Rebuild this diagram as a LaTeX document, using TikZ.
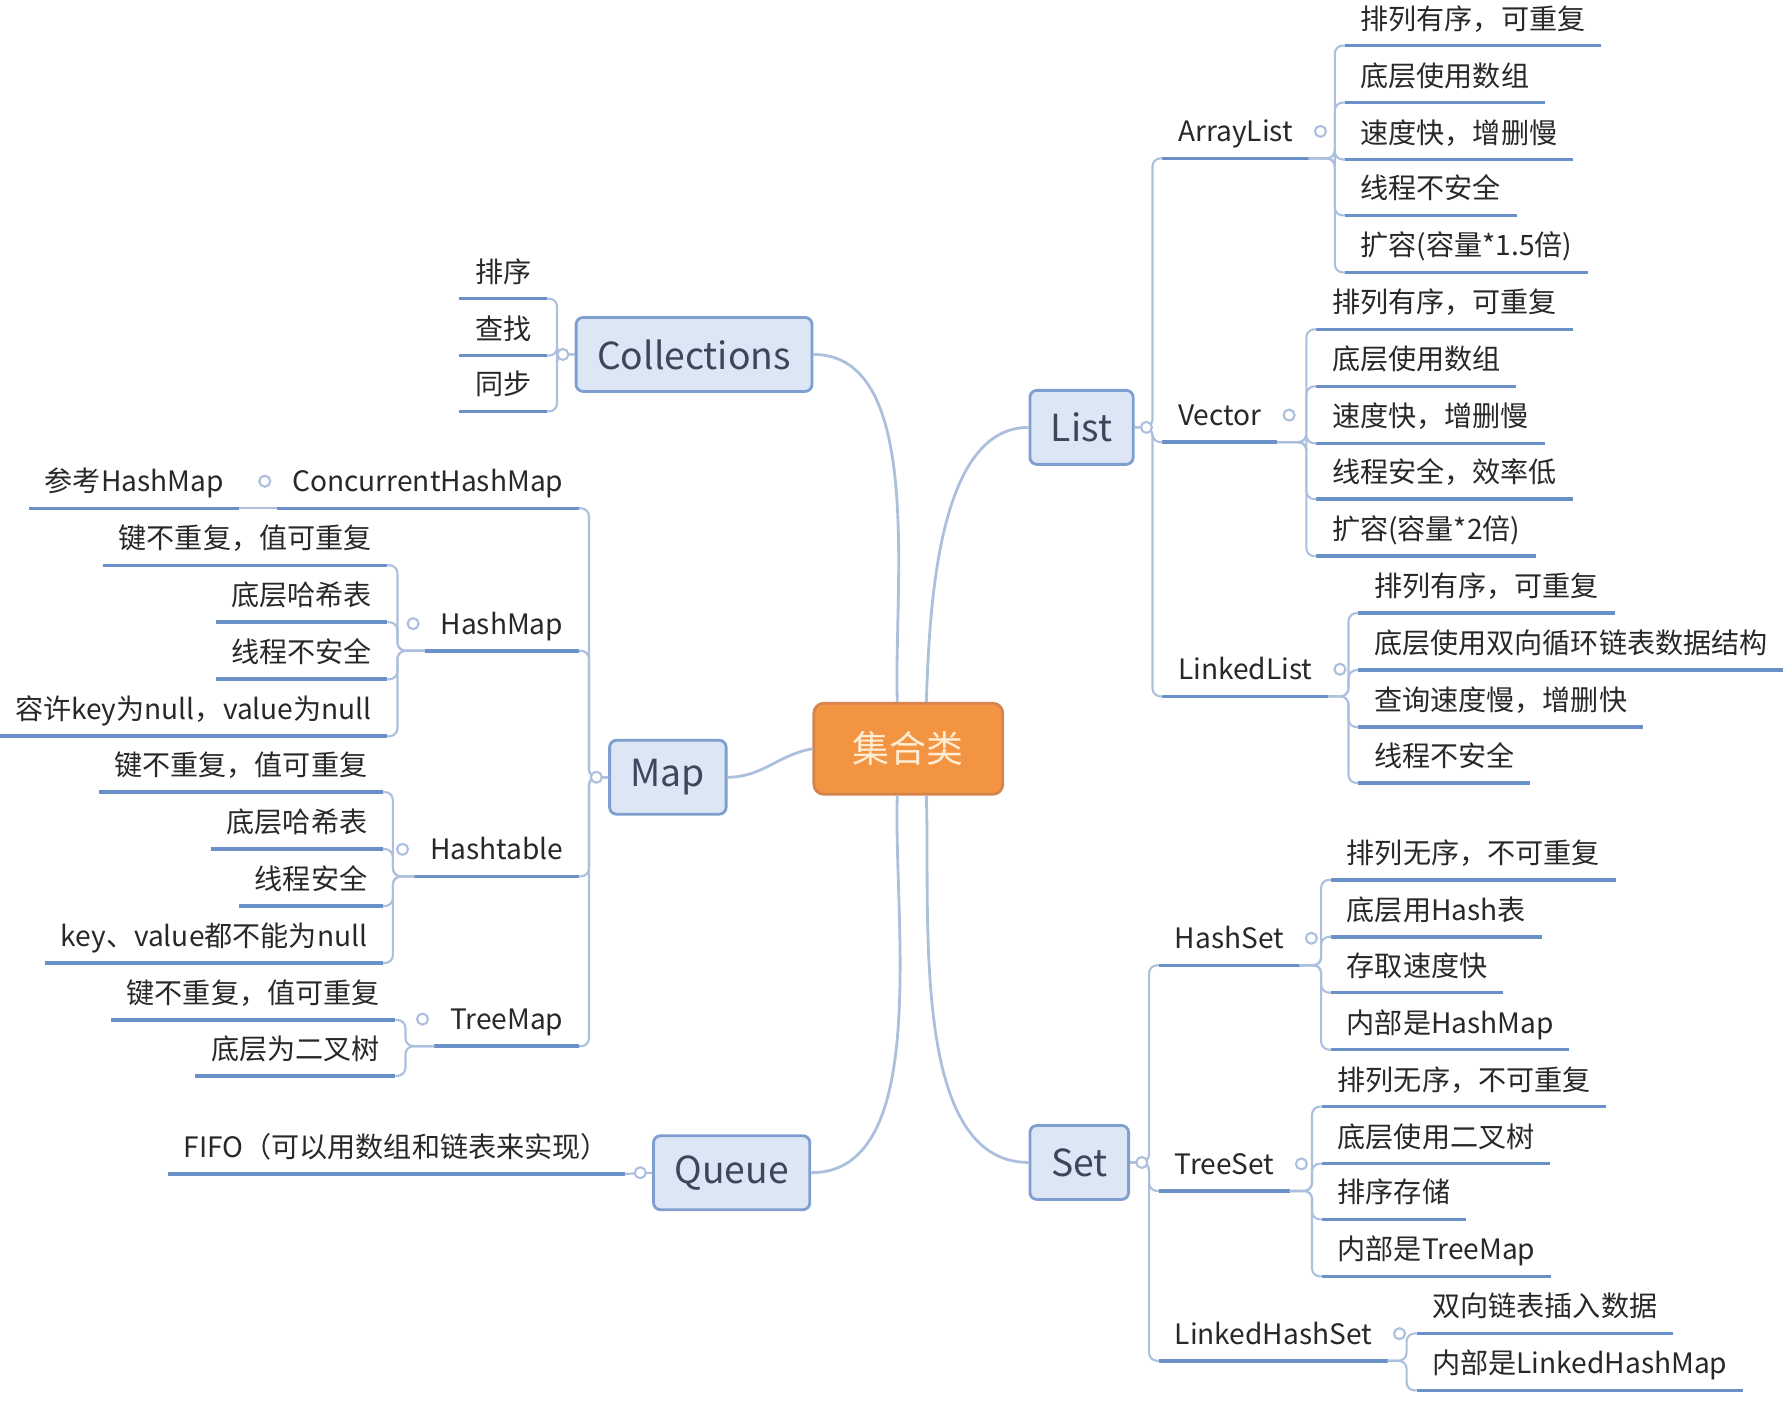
\documentclass[tikz,border=0pt]{standalone}
\usepackage{fontspec}
\setmainfont{Noto Sans CJK SC}
\usepackage{tikz}
\usetikzlibrary{positioning, calc}

\definecolor{rootfill}{RGB}{243,148,66}
\definecolor{rootdraw}{RGB}{214,132,78}
\definecolor{roottext}{RGB}{255,236,210}
\definecolor{topicfill}{RGB}{221,230,244}
\definecolor{topicdraw}{RGB}{126,159,208}
\definecolor{topictext}{RGB}{58,72,92}
\definecolor{linecol}{RGB}{172,192,222}
\definecolor{ulcol}{RGB}{106,145,199}
\definecolor{leaftext}{RGB}{40,40,40}

\begin{document}
\begin{tikzpicture}[
    x=0.0114cm, y=-0.0114cm,
    root/.style={rectangle, draw=rootdraw, line width=0.8pt, fill=rootfill, rounded corners=0.1cm, minimum width=1.89cm, minimum height=0.91cm, text=roottext, font=\fontsize{10.5}{12}\selectfont},
    topic/.style={rectangle, draw=topicdraw, line width=0.8pt, fill=topicfill, rounded corners=0.07cm, minimum height=0.74cm, inner xsep=6pt, text=topictext, font=\fontsize{10.6}{13}\selectfont},
    leaf/.style={inner xsep=0.15cm, inner ysep=2pt, text height=0.85em, text depth=0.25em, text=leaftext, font=\fontsize{8}{9.6}\selectfont,
        append after command={\pgfextra{\let\under=\tikzlastnode} (\under.south west) edge[uline] (\under.south east)}},
    dot/.style={circle, draw=linecol, fill=white, line width=0.6pt, minimum size=0.11cm, inner sep=0pt},
    uline/.style={draw=ulcol, line width=1pt},
    link/.style={draw=linecol, line width=0.6pt},
    rbr/.style={link, rounded corners=0.08cm, to path={-| ([xshift=-#1]\tikztotarget) -- (\tikztotarget)}},
    rbr/.default=0.1cm,
    lbr/.style={link, rounded corners=0.08cm, to path={-| ([xshift=#1]\tikztotarget) -- (\tikztotarget)}},
    lbr/.default=0.1cm
]
\useasboundingbox (0,0) rectangle (1568,1231);
% Root and main topics
\node[root] (root) at (797,657) {集合类};
\node[topic] (coll) at (609,311) {Collections};
\node[topic] (map) at (586,682) {Map};
\node[topic] (queue) at (642,1029) {Queue};
\node[topic] (list) at (949,375) {List};
\node[topic] (set) at (947,1020) {Set};
\draw[link, line width=0.8pt] (coll.east) to[out=0, in=92, looseness=0.8] ([xshift=-0.11cm]root.north);
\draw[link, line width=0.8pt] (map.east) to[out=0, in=190] (root.west);
\draw[link, line width=0.8pt] (queue.east) to[out=0, in=-92, looseness=0.8] ([xshift=-0.11cm]root.south);
\draw[link, line width=0.8pt] (list.west) to[out=180, in=88, looseness=0.8] ([xshift=0.18cm]root.north);
\draw[link, line width=0.8pt] (set.west) to[out=180, in=-88, looseness=0.8] ([xshift=0.18cm]root.south);

% List
\node[leaf, anchor=south west] (al) at (1020,139) {ArrayList};
\node[leaf, anchor=south west] (al1) at (1180,40) {排列有序，可重复};
\node[leaf, anchor=south west] (al2) at (1180,90) {底层使用数组};
\node[leaf, anchor=south west] (al3) at (1180,140) {速度快，增删慢};
\node[leaf, anchor=south west] (al4) at (1180,189) {线程不安全};
\node[leaf, anchor=south west] (al5) at (1180,239) {扩容(容量*1.5倍)};
\node[leaf, anchor=south west] (vec) at (1020,388) {Vector};
\node[leaf, anchor=south west] (vec1) at (1155,289) {排列有序，可重复};
\node[leaf, anchor=south west] (vec2) at (1155,339) {底层使用数组};
\node[leaf, anchor=south west] (vec3) at (1155,389) {速度快，增删慢};
\node[leaf, anchor=south west] (vec4) at (1155,438) {线程安全，效率低};
\node[leaf, anchor=south west] (vec5) at (1155,488) {扩容(容量*2倍)};
\node[leaf, anchor=south west] (ll) at (1020,611) {LinkedList};
\node[leaf, anchor=south west] (ll1) at (1192,538) {排列有序，可重复};
\node[leaf, anchor=south west] (ll2) at (1192,588) {底层使用双向循环链表数据结构};
\node[leaf, anchor=south west] (ll3) at (1192,638) {查询速度慢，增删快};
\node[leaf, anchor=south west] (ll4) at (1192,687) {线程不安全};
\path (list.east) edge[rbr] (al.south west) edge[rbr] (vec.south west) edge[rbr] (ll.south west);
\path (al.south east) edge[rbr] (al1.south west) edge[rbr] (al2.south west) edge[rbr] (al3.south west)
    edge[rbr] (al4.south west) edge[rbr] (al5.south west);
\path (vec.south east) edge[rbr] (vec1.south west) edge[rbr] (vec2.south west) edge[rbr] (vec3.south west)
    edge[rbr] (vec4.south west) edge[rbr] (vec5.south west);
\path (ll.south east) edge[rbr] (ll1.south west) edge[rbr] (ll2.south west) edge[rbr] (ll3.south west)
    edge[rbr] (ll4.south west);

% Set
\node[leaf, anchor=south west] (hs) at (1017,847) {HashSet};
\node[leaf, anchor=south west] (hs1) at (1168,772) {排列无序，不可重复};
\node[leaf, anchor=south west] (hs2) at (1168,822) {底层用Hash表};
\node[leaf, anchor=south west] (hs3) at (1168,871) {存取速度快};
\node[leaf, anchor=south west] (hs4) at (1168,921) {内部是HashMap};
\node[leaf, anchor=south west] (ts) at (1017,1045) {TreeSet};
\node[leaf, anchor=south west] (ts1) at (1160,971) {排列无序，不可重复};
\node[leaf, anchor=south west] (ts2) at (1160,1021) {底层使用二叉树};
\node[leaf, anchor=south west] (ts3) at (1160,1070) {排序存储};
\node[leaf, anchor=south west] (ts4) at (1160,1120) {内部是TreeMap};
\node[leaf, anchor=south west] (lhs) at (1017,1194) {LinkedHashSet};
\node[leaf, anchor=south west] (lhs1) at (1243,1170) {双向链表插入数据};
\node[leaf, anchor=south west] (lhs2) at (1243,1220) {内部是LinkedHashMap};
\path (set.east) edge[rbr] (hs.south west) edge[rbr] (ts.south west) edge[rbr] (lhs.south west);
\path (hs.south east) edge[rbr] (hs1.south west) edge[rbr] (hs2.south west) edge[rbr] (hs3.south west)
    edge[rbr] (hs4.south west);
\path (ts.south east) edge[rbr] (ts1.south west) edge[rbr] (ts2.south west) edge[rbr] (ts3.south west)
    edge[rbr] (ts4.south west);
\path (lhs.south east) edge[rbr] (lhs1.south west) edge[rbr] (lhs2.south west);

% Collections
\node[leaf, anchor=south east] (c1) at (480,262) {排序};
\node[leaf, anchor=south east] (c2) at (480,312) {查找};
\node[leaf, anchor=south east] (c3) at (480,361) {同步};
\path (coll.west) edge[lbr] (c1.south east) edge[lbr] (c2.south east) edge[lbr] (c3.south east);

% Map
\node[leaf, anchor=south east] (chm) at (508,446) {ConcurrentHashMap};
\node[leaf, anchor=south east] (ref) at (210,446) {参考HashMap};
\node[leaf, anchor=south east] (hm) at (508,571) {HashMap};
\node[leaf, anchor=south east] (hm1) at (340,496) {键不重复，值可重复};
\node[leaf, anchor=south east] (hm2) at (340,546) {底层哈希表};
\node[leaf, anchor=south east] (hm3) at (340,596) {线程不安全};
\node[leaf, anchor=south east] (hm4) at (340,646) {容许key为null，value为null};
\node[leaf, anchor=south east] (ht) at (508,769) {Hashtable};
\node[leaf, anchor=south east] (ht1) at (336,695) {键不重复，值可重复};
\node[leaf, anchor=south east] (ht2) at (336,745) {底层哈希表};
\node[leaf, anchor=south east] (ht3) at (336,795) {线程安全};
\node[leaf, anchor=south east] (ht4) at (336,845) {key、value都不能为null};
\node[leaf, anchor=south east] (tm) at (508,918) {TreeMap};
\node[leaf, anchor=south east] (tm1) at (347,895) {键不重复，值可重复};
\node[leaf, anchor=south east] (tm2) at (347,944) {底层为二叉树};
\path (map.west) edge[lbr] (chm.south east) edge[lbr] (hm.south east) edge[lbr] (ht.south east)
    edge[lbr] (tm.south east);
\draw[link] (chm.south west) -- (ref.south east);
\path (hm.south west) edge[lbr] (hm1.south east) edge[lbr] (hm2.south east) edge[lbr] (hm3.south east)
    edge[lbr] (hm4.south east);
\path (ht.south west) edge[lbr] (ht1.south east) edge[lbr] (ht2.south east) edge[lbr] (ht3.south east)
    edge[lbr] (ht4.south east);
\path (tm.south west) edge[lbr] (tm1.south east) edge[lbr] (tm2.south east);

% Queue
\node[leaf, anchor=south east] (fifo) at (548,1030) {FIFO（可以用数组和链表来实现）};
\draw[link] (queue.west) -- (fifo.south east);

% Collapse markers
\node[dot, left=1.5pt of coll] {};
\node[dot, left=1.5pt of map] {};
\node[dot, left=1.5pt of queue] {};
\node[dot, right=1.5pt of list] {};
\node[dot, right=1.5pt of set] {};
\node[dot, right=1.5pt of al] {};
\node[dot, right=1.5pt of vec] {};
\node[dot, right=1.5pt of ll] {};
\node[dot, right=1.5pt of hs] {};
\node[dot, right=1.5pt of ts] {};
\node[dot, right=1.5pt of lhs] {};
\node[dot, left=1.5pt of chm] {};
\node[dot, left=1.5pt of hm] {};
\node[dot, left=1.5pt of ht] {};
\node[dot, left=1.5pt of tm] {};
\end{tikzpicture}
\end{document}
